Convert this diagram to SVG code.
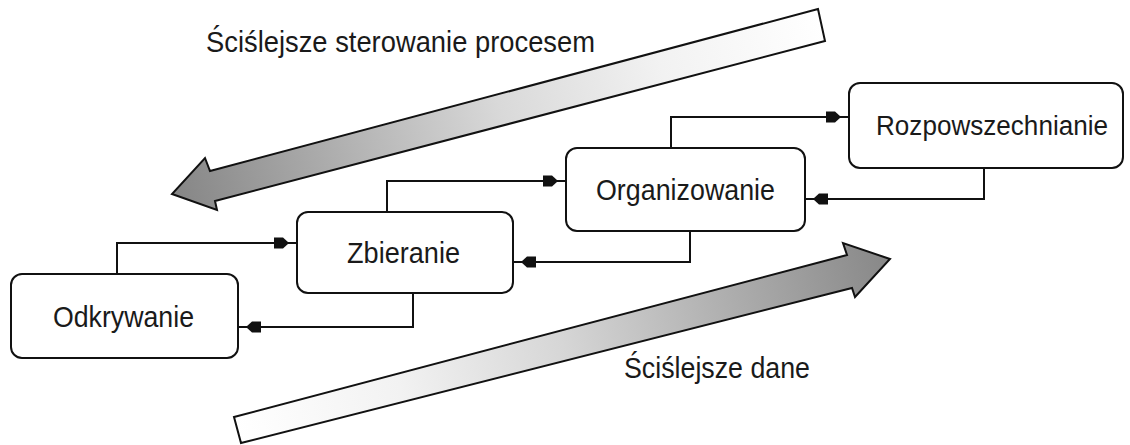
<svg xmlns="http://www.w3.org/2000/svg" width="1130" height="445" viewBox="0 0 1130 445">
  <style>
    .box { fill: #ffffff; stroke: #111111; stroke-width: 2; }
    .lbl { font-family: "Liberation Sans", Arial, sans-serif; font-size: 29px; fill: #1a1a1a; }
    .conn { fill: none; stroke: #111111; stroke-width: 2; marker-end: url(#head); }
    .big { stroke: #111111; stroke-width: 2; stroke-linejoin: miter; }
  </style>
  <defs>
    <marker id="head" markerUnits="userSpaceOnUse" markerWidth="26" markerHeight="12" viewBox="0 0 26 12" refX="23" refY="6" orient="auto" overflow="visible">
      <path d="M0,0.5 L9,0.5 L15,6 L9,11.5 L0,11.5 Z" fill="#111111"/>
    </marker>
    <linearGradient id="gTop" gradientUnits="userSpaceOnUse" x1="822" y1="25" x2="180" y2="195">
      <stop offset="0" stop-color="#ffffff"/>
      <stop offset="0.25" stop-color="#f2f2f2"/>
      <stop offset="0.5" stop-color="#d9d9d9"/>
      <stop offset="1" stop-color="#878787"/>
    </linearGradient>
    <linearGradient id="gBot" gradientUnits="userSpaceOnUse" x1="237" y1="430" x2="888" y2="260">
      <stop offset="0" stop-color="#ffffff"/>
      <stop offset="0.25" stop-color="#f2f2f2"/>
      <stop offset="0.5" stop-color="#d6d6d6"/>
      <stop offset="1" stop-color="#888888"/>
    </linearGradient>
  </defs>
  <rect width="1130" height="445" fill="#ffffff"/>

  <g id="arrow-top">
    <polygon class="big" fill="url(#gTop)" points="818,9 210,171 205,158 172,194 217,210 215,201 825,41"/>
    <text class="lbl" x="206" y="52" textLength="389" lengthAdjust="spacingAndGlyphs">Ściślejsze sterowanie procesem</text>
  </g>
  <g id="arrow-bottom">
    <polygon class="big" fill="url(#gBot)" points="234,417 847,255 843,243 890,259 855,297 852,288 241,443"/>
    <text class="lbl" x="624" y="378" textLength="186" lengthAdjust="spacingAndGlyphs">Ściślejsze dane</text>
  </g>

  <g id="connectors">
    <path class="conn" d="M117,274 V243 H297"/>
    <path class="conn" d="M413,293 V327 H238"/>
    <path class="conn" d="M387,212 V181 H566"/>
    <path class="conn" d="M690,231 V262 H513"/>
    <path class="conn" d="M671,148 V117 H849"/>
    <path class="conn" d="M984,168 V199 H805"/>
  </g>

  <g id="odkrywanie">
    <rect class="box" x="11" y="274" width="227" height="84" rx="11"/>
    <text class="lbl" x="53" y="327" textLength="141" lengthAdjust="spacingAndGlyphs">Odkrywanie</text>
  </g>
  <g id="zbieranie">
    <rect class="box" x="297" y="212" width="216" height="81" rx="11"/>
    <text class="lbl" x="347" y="263" textLength="113" lengthAdjust="spacingAndGlyphs">Zbieranie</text>
  </g>
  <g id="organizowanie">
    <rect class="box" x="566" y="148" width="239" height="83" rx="11"/>
    <text class="lbl" x="596" y="200" textLength="179" lengthAdjust="spacingAndGlyphs">Organizowanie</text>
  </g>
  <g id="rozpowszechnianie">
    <rect class="box" x="849" y="83" width="274" height="85" rx="11"/>
    <text class="lbl" x="876" y="135" style="font-size:27px" textLength="232" lengthAdjust="spacingAndGlyphs">Rozpowszechnianie</text>
  </g>
</svg>
